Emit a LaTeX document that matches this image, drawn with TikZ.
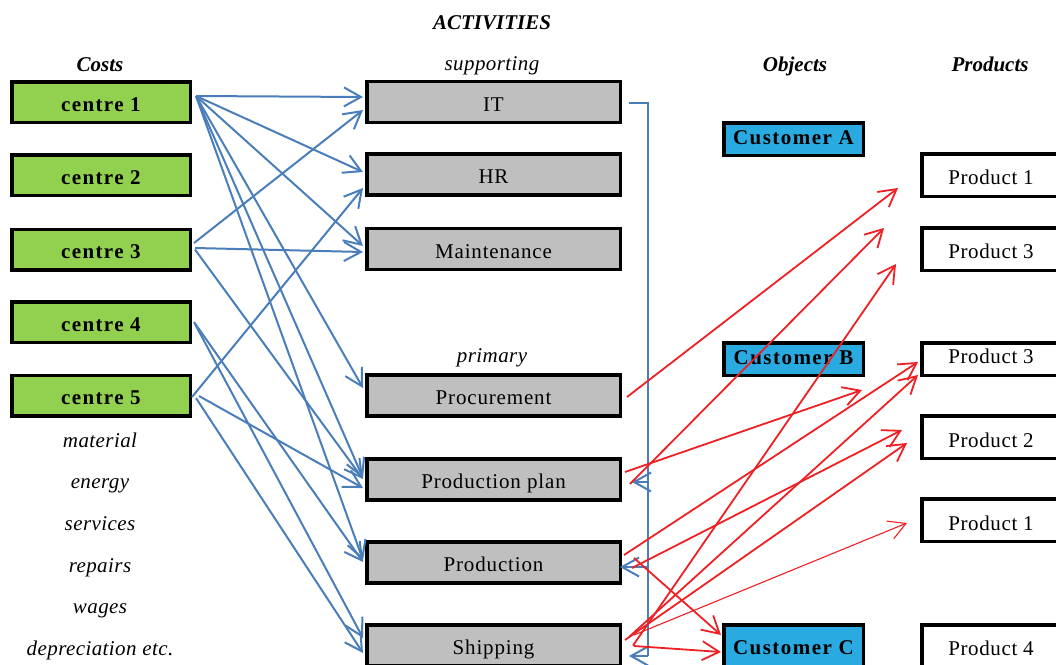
\documentclass[tikz,border=0pt]{standalone}
\usepackage{fontspec}
\setmainfont{Liberation Serif}
\usetikzlibrary{arrows.meta,calc}
\definecolor{cgreen}{HTML}{92D050}
\definecolor{cgray}{HTML}{BFBFBF}
\definecolor{ccyan}{HTML}{29ABE2}
\definecolor{lblue}{HTML}{4A7EBB}
\definecolor{lred}{HTML}{EE2024}
\newcommand{\fsz}{\fontsize{21}{25}\selectfont}
\tikzset{
  bx/.style={draw=black, line width=3.5pt, inner sep=0pt, text height=18pt, text depth=0pt},
  costbox/.style={bx, fill=cgreen, minimum width=178.5pt, minimum height=40.5pt,
    font=\fsz\bfseries\addfontfeatures{LetterSpace=6.5}},
  actbox/.style={bx, fill=cgray, minimum width=253.5pt, minimum height=41pt,
    font=\fsz\addfontfeatures{LetterSpace=4}},
  custbox/.style={bx, fill=ccyan, minimum width=139.5pt, minimum height=32.5pt, text height=10pt,
    font=\fsz\bfseries\addfontfeatures{LetterSpace=7}},
  prodbox/.style={bx, fill=white, minimum width=138.5pt, minimum height=42.5pt,
    font=\fsz\addfontfeatures{LetterSpace=3}},
  lbl/.style={anchor=base, inner sep=0pt, font=\fsz\itshape\addfontfeatures{LetterSpace=2}},
  hdr/.style={anchor=base, inner sep=0pt, font=\fsz\bfseries\itshape},
  barb/.style={-{Straight Barb[length=17pt,width=19pt]}},
  barrow/.style={barb, draw=lblue, line width=2pt},
  rarrow/.style={barb, draw=lred, line width=1.8pt},
  fbline/.style={draw=lblue, line width=2pt},
}
\begin{document}
\begin{tikzpicture}[x=1pt,y=-1pt]
\useasboundingbox (0,0) rectangle (1056,664);

% headers
\node[hdr] (hact) at (492,29) {ACTIVITIES};
\node[hdr] (hcost) at (100,71) {Costs};
\node[lbl] (hsup) at (492,70) {supporting};
\node[hdr] (hobj) at (795,71) {Objects};
\node[hdr] (hprod) at (990,71) {Products};
\node[lbl] (hprim) at (492,362) {primary};

% cost list
\node[lbl] (l1) at (100,447) {material};
\node[lbl] (l2) at (100,488) {energy};
\node[lbl] (l3) at (100,530) {services};
\node[lbl] (l4) at (100,572) {repairs};
\node[lbl] (l5) at (100,613) {wages};
\node[lbl] (l6) at (100,655) {depreciation etc.};

% cost centres
\node[costbox] (c1) at (101,102) {centre 1};
\node[costbox] (c2) at (101,175) {centre 2};
\node[costbox] (c3) at (101,249.5) {centre 3};
\node[costbox] (c4) at (101,322) {centre 4};
\node[costbox] (c5) at (101,395.5) {centre 5};

% activities
\node[actbox] (it) at (493.5,102) {IT};
\node[actbox] (hr) at (493.5,174.5) {HR};
\node[actbox] (mnt) at (493.5,249) {Maintenance};
\node[actbox] (proc) at (493.5,395.5) {Procurement};
\node[actbox] (pp) at (493.5,479.5) {Production plan};
\node[actbox] (prod) at (493.5,562.5) {Production};
\node[actbox] (ship) at (493.5,645.5) {Shipping};

% objects
\node[custbox] (ca) at (793.5,139) {Customer A};
\node[custbox] (cb) at (793.5,359) {Customer B};
\node[custbox, minimum height=46.5pt, text height=13.9pt] (cc) at (793.5,648) {Customer C};

% products
\node[prodbox] (p1) at (991,175) {Product 1};
\node[prodbox] (p3) at (991,249) {Product 3};
\node[prodbox, minimum height=32.5pt, text height=8pt] (p3b) at (991,359) {Product 3};
\node[prodbox, text height=20pt] (p2) at (991,437) {Product 2};
\node[prodbox, text height=20pt] (p1b) at (991,520) {Product 1};
\node[prodbox] (p4) at (991,646) {Product 4};

% blue: cost centres -> activities
\draw[barrow] ([shift={(4,-6)}]c1.east) -- ([shift={(-2,-5)}]it.west);
\draw[barrow] ([shift={(4,-6)}]c1.east) -- ([shift={(-2,-2.5)}]hr.west);
\draw[barrow] ([shift={(4,-6)}]c1.east) -- ([shift={(-2,-3)}]mnt.west);
\draw[barrow] ([shift={(4,-6)}]c1.east) -- ([shift={(-2,-7.5)}]proc.west);
\draw[barrow] ([shift={(4,-6)}]c1.east) -- ([shift={(-2,-1.5)}]pp.west);
\draw[barrow] ([shift={(4,-6)}]c1.east) -- ([shift={(-2,-2.5)}]prod.west);

\draw[barrow] ([shift={(2,-6.5)}]c3.east) -- ([shift={(-2,8)}]it.west);
\draw[barrow] ([shift={(3,-1.5)}]c3.east) -- ([shift={(-2,3)}]mnt.west);
\draw[barrow] ([shift={(3,0)}]c3.east) -- ([shift={(-2,-0.5)}]pp.west);

\draw[barrow] ([shift={(2,0)}]c4.east) -- ([shift={(-2,-0.5)}]prod.west);
\draw[barrow] ([shift={(3,2)}]c4.east) -- ([shift={(-2,-7.5)}]ship.west);

\draw[barrow] ([shift={(0,1.5)}]c5.east) -- ([shift={(-2,13.5)}]hr.west);
\draw[barrow] ([shift={(7,0.5)}]c5.east) -- ([shift={(-2,8.5)}]pp.west);
\draw[barrow] ([shift={(4,2.5)}]c5.east) -- ([shift={(-2,7.5)}]ship.west);

% blue feedback from IT
\coordinate (fbtop) at (648,103);
\coordinate (fbpp) at (648,482);
\coordinate (fbprod) at (648,567);
\coordinate (fbbot) at (648,656);
\draw[fbline] ([shift={(7,1)}]it.east) -- (fbtop) -- (fbbot);
\draw[barrow] (fbpp) -- ([shift={(10,2.5)}]pp.east);
\draw[barrow] (fbprod) -- ([shift={(-2,4.5)}]prod.east);
\draw[barrow] (fbbot) -- ([shift={(7,10.5)}]ship.east);

% red: activities -> objects / products
\coordinate (t1) at (898,188);
\coordinate (t2) at (884,228);
\coordinate (t3) at (896,264);
\coordinate (t6) at (862,390);
\coordinate (t7) at (902,430);
\coordinate (t8) at (907,443);
\coordinate (t9) at (907,523);

\draw[rarrow] ([shift={(5,1.5)}]proc.east) -- (t1);
\draw[rarrow] ([shift={(8,4.5)}]pp.east) -- (t2);
\draw[rarrow] ([shift={(3,-7.5)}]pp.east) -- (t6);
\draw[rarrow] ([shift={(2,-7.5)}]prod.east) -- ([shift={(-2,3)}]p3b.west);
\draw[rarrow] ([shift={(10,5.5)}]prod.east) -- (t7);
\draw[rarrow] ([shift={(12,-4.5)}]prod.east) -- ([shift={(-1,-13)}]cc.west);
\draw[rarrow] ([shift={(11,0)}]ship.east) -- (t3);
\draw[rarrow] ([shift={(7,-8.5)}]ship.east) -- ([shift={(-2,16)}]p3b.west);
\draw[rarrow] ([shift={(3,-5.5)}]ship.east) -- (t8);
\draw[rarrow, line width=1.1pt] ([shift={(12,-10.5)}]ship.east) -- (t9);
\draw[rarrow] ([shift={(12,0.5)}]ship.east) -- ([shift={(-1,4)}]cc.west);
\end{tikzpicture}
\end{document}
